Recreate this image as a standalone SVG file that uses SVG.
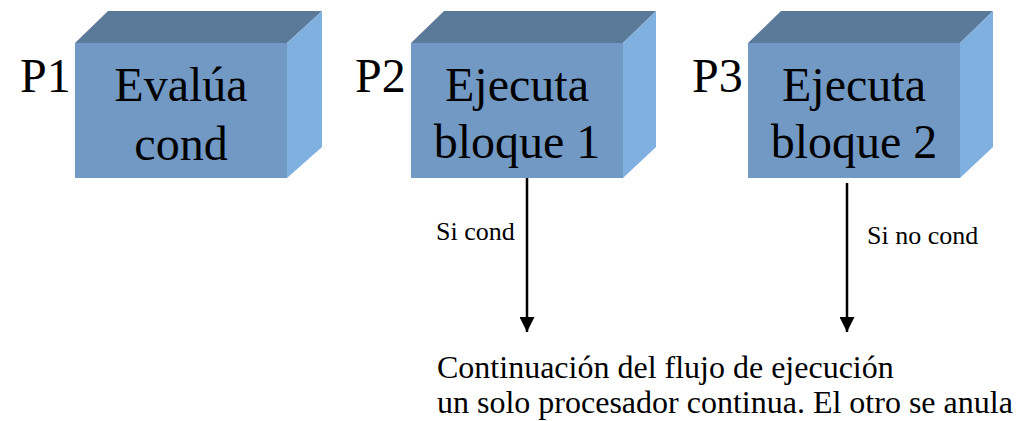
<svg xmlns="http://www.w3.org/2000/svg" width="1030" height="421" viewBox="0 0 1030 421">
  <style>
    .front { fill: #7299C4; }
    .top { fill: #5B7A99; }
    .side { fill: #80B0DF; }
    text { font-family: "Liberation Serif", Tinos, "Times New Roman", Times, "DejaVu Serif", serif; fill: #000; }
    .big { font-size: 48px; }
    .lbl { font-size: 26px; }
    .note { font-size: 32px; }
    .conn { stroke: #000; stroke-width: 2.5; fill: none; }
  </style>
  <defs>
    <marker id="arrow" markerWidth="6" markerHeight="6" refX="6" refY="3" orient="auto" markerUnits="strokeWidth">
      <path d="M0,0 L6,3 L0,6 Z" fill="#000"/>
    </marker>
  </defs>

  <g id="node-p1">
    <text class="big" x="20" y="92" font-family="Liberation Serif, Times New Roman, serif">P1</text>
    <polygon class="top" points="75,43 108,11 322,11 287,43"/>
    <polygon class="side" points="287,43 322,11 322,147 287,178"/>
    <rect class="front" x="75" y="43" width="212" height="135"/>
    <text class="big" x="181" y="101" text-anchor="middle">Evalúa</text>
    <text class="big" x="181" y="160" text-anchor="middle">cond</text>
  </g>

  <g id="node-p2">
    <text class="big" x="355" y="92">P2</text>
    <polygon class="top" points="411,43 444,11 656,11 623,43"/>
    <polygon class="side" points="623,43 656,11 656,147 623,178"/>
    <rect class="front" x="411" y="43" width="212" height="135"/>
    <text class="big" x="517" y="101" text-anchor="middle">Ejecuta</text>
    <text class="big" x="517" y="158" text-anchor="middle">bloque 1</text>
  </g>

  <g id="node-p3">
    <text class="big" x="692" y="92">P3</text>
    <polygon class="top" points="748,43 781,11 993,11 960,43"/>
    <polygon class="side" points="960,43 993,11 993,147 960,178"/>
    <rect class="front" x="748" y="43" width="212" height="135"/>
    <text class="big" x="854" y="101" text-anchor="middle">Ejecuta</text>
    <text class="big" x="854" y="158" text-anchor="middle">bloque 2</text>
  </g>

  <g id="connectors">
    <line class="conn" x1="527" y1="178" x2="527" y2="332" marker-end="url(#arrow)"/>
    <line class="conn" x1="847" y1="183" x2="847" y2="332" marker-end="url(#arrow)"/>
    <text class="lbl" x="436" y="240">Si cond</text>
    <text class="lbl" x="867" y="244">Si no cond</text>
  </g>

  <g id="note">
    <text class="note" x="437" y="378">Continuación del flujo de ejecución</text>
    <text class="note" x="437" y="413">un solo procesador continua. El otro se anula</text>
  </g>
</svg>
